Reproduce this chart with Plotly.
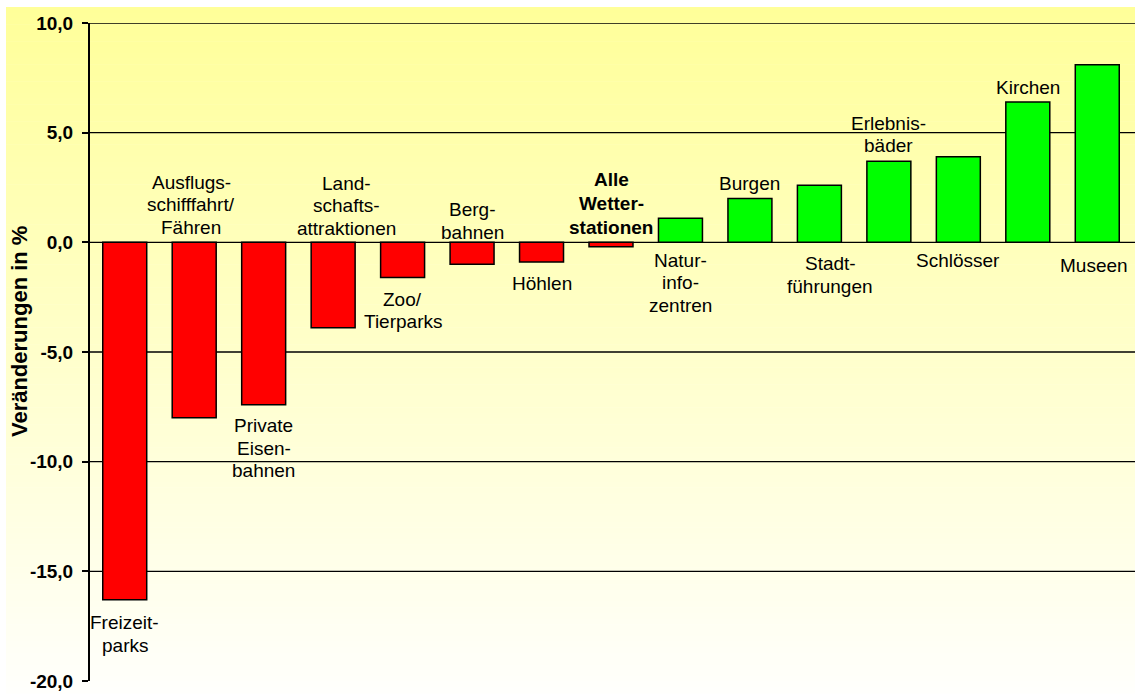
import plotly.graph_objects as go

# ---------------- data ----------------
categories = ["Freizeitparks", "Ausflugsschifffahrt/Fähren", "Private Eisenbahnen",
              "Landschaftsattraktionen", "Zoo/Tierparks", "Bergbahnen", "Höhlen",
              "Alle Wetterstationen", "Naturinfozentren", "Burgen", "Stadtführungen",
              "Erlebnisbäder", "Schlösser", "Kirchen", "Museen"]
values = [-16.3, -8.0, -7.4, -3.9, -1.6, -1.0, -0.9, -0.2, 1.1, 2.0, 2.6, 3.7, 3.9, 6.4, 8.1]
label_lines = [["Freizeit-", "parks"], ["Ausflugs-", "schifffahrt/", "Fähren"],
               ["Private", "Eisen-", "bahnen"], ["Land-", "schafts-", "attraktionen"],
               ["Zoo/", "Tierparks"], ["Berg-", "bahnen"], ["Höhlen"],
               ["Alle", "Wetter-", "stationen"], ["Natur-", "info-", "zentren"], ["Burgen"],
               ["Stadt-", "führungen"], ["Erlebnis-", "bäder"], ["Schlösser"], ["Kirchen"],
               ["Museen"]]
tick_vals = [10, 5, 0, -5, -10, -15, -20]
tick_text = ["10,0", "5,0", "0,0", "-5,0", "-10,0", "-15,0", "-20,0"]
grid_vals = [10, 5, 0, -5, -10, -15]
y_title = "Veränderungen in %"

# ---------------- styling / placement ----------------
label_anchor = ["end", "base", "end", "base", "end", "base", "end", "base", "base", "end",
                "base", "end", "base", "end", "base"]
label_gap = [23, 15, 21, 14, 22, 10, 21, 15, 18, 14.5, 21.5, 15.5, 18.5, 14, 23.5]
label_xshift = [0, -3, 0, 13, 0, 0, 0, 0, 0, 0, 11, 0, 0, 0, -3]
label_bold = [False] * 7 + [True] + [False] * 7
FONT = "Liberation Sans, Arial, sans-serif"
W, H = 1135, 695
ML, MR, MT, MB = 90, 3, 23, 12
PW, PH = W - ML - MR, H - MT - MB

fig = go.Figure()
fig.add_trace(go.Bar(
    x=categories, y=values,
    marker=dict(color=["#FF0000" if v < 0 else "#00FF00" for v in values],
                line=dict(color="black", width=1.5)),
    hoverinfo="x+y", showlegend=False,
))

shapes = []


def px2paper_x(px):
    return (px - ML) / PW


def px2paper_y(py):
    return (H - MB - py) / PH


# gradient background (paper coordinates, covering page from x=6px, y=7px)
N = 120
top_px, bot_px = 7, H
for i in range(N):
    y0 = top_px + (bot_px - top_px) * i / N
    y1 = top_px + (bot_px - top_px) * (i + 1) / N
    t = (i + 0.5) / N
    b = int(round(153 + (252 - 153) * t))
    shapes.append(dict(type="rect", xref="paper", yref="paper",
                       x0=px2paper_x(6), x1=px2paper_x(W + 2),
                       y0=px2paper_y(y1 + 0.5), y1=px2paper_y(y0),
                       line=dict(width=0), fillcolor=f"rgb(255,255,{b})", layer="below"))
for g in grid_vals:
    shapes.append(dict(type="line", xref="paper", yref="y", x0=0, x1=px2paper_x(W),
                       y0=g, y1=g, line=dict(color="black", width=1.3), layer="below"))

annotations = []
for i, (cat, val, lines) in enumerate(zip(categories, values, label_lines)):
    anchor_val = val if label_anchor[i] == "end" else 0
    if label_anchor[i] == "end":
        below = val < 0
    else:
        below = val > 0
    pitch = 24 if label_bold[i] else 22.5
    n = len(lines)
    for j, line in enumerate(lines):
        if below:
            shift = -(label_gap[i] + j * pitch)
        else:
            shift = label_gap[i] + (n - 1 - j) * pitch
        txt = f"<b>{line}</b>" if label_bold[i] else line
        annotations.append(dict(x=cat, y=anchor_val, xref="x", yref="y", text=txt,
                                showarrow=False, xanchor="center", yanchor="middle",
                                yshift=shift, xshift=label_xshift[i],
                                font=dict(family=FONT, size=19, color="black")))

annotations.append(dict(x=px2paper_x(19), y=px2paper_y(332), xref="paper", yref="paper",
                        text=f"<b>{y_title}</b>", textangle=-90, showarrow=False,
                        xanchor="center", yanchor="middle",
                        font=dict(family=FONT, size=22, color="black")))

fig.update_layout(
    width=W, height=H,
    margin=dict(l=ML, r=MR, t=MT, b=MB, pad=0),
    paper_bgcolor="white", plot_bgcolor="rgba(0,0,0,0)",
    bargap=0.367,
    shapes=shapes, annotations=annotations,
    font=dict(family=FONT, size=19, color="black"),
    xaxis=dict(range=[-0.5, len(categories) - 0.5], showticklabels=False, showgrid=False,
               zeroline=False, showline=False, ticks=""),
    yaxis=dict(range=[-20, 10], tickvals=tick_vals,
               ticktext=[f"<b>{t}</b>" for t in tick_text],
               ticks="outside", ticklen=6, tickwidth=2, tickcolor="black",
               showline=True, linewidth=2, linecolor="black",
               showgrid=False, zeroline=False, ticklabelstandoff=5,
               tickfont=dict(family=FONT, size=19, color="black")),
)

fig.write_html("out.html")
